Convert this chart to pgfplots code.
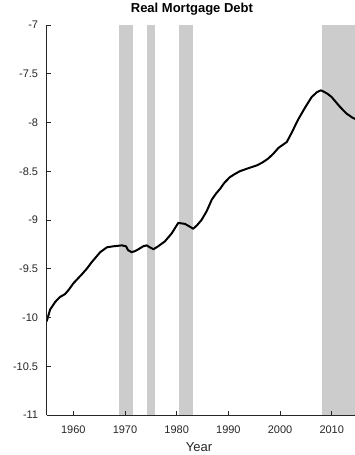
\documentclass[border=0pt]{standalone}
\usepackage{pgfplots}
\pgfplotsset{compat=1.18}
\usepackage{fontspec}
\setmainfont{Liberation Sans}
\definecolor{axisgray}{gray}{0.15}
\definecolor{bandgray}{gray}{0.8}

\begin{document}
\begin{tikzpicture}
\begin{axis}[
  scale only axis, width=308.3pt, height=390pt,
  xmin=1954.85, xmax=2014.5, ymin=-11, ymax=-7,
  axis lines*=left,
  axis line style={axisgray, line width=0.6pt},
  xtick={1960,1970,1980,1990,2000,2010},
  xticklabels={1960,1970,1980,1990,2000,2010},
  ytick={-11,-10.5,-10,-9.5,-9,-8.5,-8,-7.5,-7},
  yticklabels={-11,-10.5,-10,-9.5,-9,-8.5,-8,-7.5,-7},
  tick align=inside, major tick length=4.5pt,
  tick style={axisgray, line width=0.6pt},
  ticklabel style={font=\fontsize{11}{13}\selectfont, text=axisgray, inner sep=0pt},
  xticklabel style={anchor=base, yshift=-18pt},
  yticklabel style={anchor=east, xshift=-8.4pt},
  xlabel={Year},
  xlabel style={font=\fontsize{13}{15}\selectfont, text=axisgray,
    at={(axis description cs:0.494,0)}, anchor=base, yshift=-36pt, inner sep=0pt},
  title={Real Mortgage Debt},
  title style={font=\bfseries\fontsize{13}{15}\selectfont,
    at={(axis description cs:0.471,1)}, anchor=base, yshift=6.7pt, inner sep=0pt},
  axis on top,
]
% recession bands
\addplot[fill=bandgray, draw=none] coordinates {(1968.8,-11) (1968.8,-7) (1971.5,-7) (1971.5,-11)} -- cycle;
\addplot[fill=bandgray, draw=none] coordinates {(1974.26,-11) (1974.26,-7) (1975.75,-7) (1975.75,-11)} -- cycle;
\addplot[fill=bandgray, draw=none] coordinates {(1980.5,-11) (1980.5,-7) (1983.1,-7) (1983.1,-11)} -- cycle;
\addplot[fill=bandgray, draw=none] coordinates {(2008.2,-11) (2008.2,-7) (2014.5,-7) (2014.5,-11)} -- cycle;

% log real mortgage debt
\addplot[black, line width=2pt, line join=round] table {
x y
1954.85 -10.04
1955.5 -9.92
1956.5 -9.84
1957.4 -9.79
1958.4 -9.76
1959.2 -9.71
1960.0 -9.65
1961.6 -9.56
1962.6 -9.50
1963.6 -9.43
1964.4 -9.38
1965.2 -9.33
1966.5 -9.28
1967.7 -9.27
1968.6 -9.265
1969.4 -9.26
1970.2 -9.27
1970.6 -9.31
1971.3 -9.33
1971.9 -9.32
1972.6 -9.30
1973.5 -9.27
1974.2 -9.26
1974.8 -9.28
1975.5 -9.30
1976.4 -9.27
1977.7 -9.22
1979.0 -9.14
1980.3 -9.03
1981.0 -9.035
1981.6 -9.04
1982.6 -9.07
1983.2 -9.09
1984.0 -9.05
1984.8 -9.00
1985.8 -8.91
1986.8 -8.79
1987.6 -8.73
1988.4 -8.68
1989.2 -8.62
1990.3 -8.56
1991.2 -8.53
1992.2 -8.50
1993.8 -8.47
1995.5 -8.44
1996.6 -8.41
1997.7 -8.37
1998.7 -8.32
1999.7 -8.26
2000.5 -8.23
2001.3 -8.20
2002.2 -8.11
2003.5 -7.97
2004.8 -7.85
2006.1 -7.74
2007.1 -7.69
2007.9 -7.67
2008.7 -7.69
2009.3 -7.71
2010.0 -7.74
2010.8 -7.79
2011.6 -7.84
2012.9 -7.91
2014.0 -7.95
2014.8 -7.97
};
\coordinate (ll) at (rel axis cs:0,0);
\coordinate (ur) at (rel axis cs:1,1);
\end{axis}
\pgfresetboundingbox
\path ([shift={(-46.7pt,-40pt)}]ll) rectangle ([shift={(0pt,25pt)}]ur);
\end{tikzpicture}
\end{document}
